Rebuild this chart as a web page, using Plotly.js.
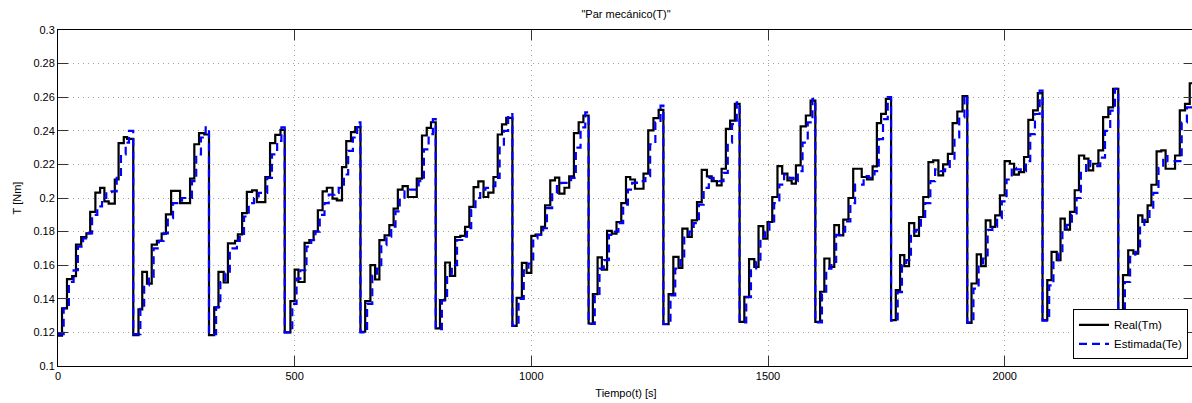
<!DOCTYPE html>
<html>
<head>
<meta charset="utf-8">
<script src="https://cdn.plot.ly/plotly-3.0.1.min.js"></script>
<style>
html,body{margin:0;padding:0;background:#fff;overflow:hidden;}
#chart{width:1194px;height:403px;}
</style>
</head>
<body>
<div id="chart"></div>
<script>
// Real torque (Tm): step times [s] and values [Nm]
const tReal = [
0,8.5,19,30,38,49,60,68,79,89,98,107,120,128,139,146,
159,170,178,188,198,209,219,228,239,258,279,288,298,309,
319,330,339,350,359,374,380,389,399,410,420,438,448,459,470,
479,491,500,508,521,531,540,549,559,568,580,589,600,609,619,628,
639,649,660,670,679,690,700,709,718,728,739,758,769,779,788,
798,807,818,828,839,850,860,869,878,888,899,909,920,929,938,947,
960,969,980,990,1000,1009,1021,1029,1040,1050,1059,1070,1080,1090,1100,1110,
1121,1130,1140,1149,1160,1170,1180,1190,1200,1209,1219,1237,1247,1258,1269,
1279,1290,1300,1311,1319,1330,1339,1350,1360,1371,1381,1392,1402,1411,1420,1430,
1440,1450,1460,1471,1480,1490,1499,1509,1520,1530,1541,1550,1559,1569,1580,1590,
1600,1610,1619,1630,1640,1650,1659,1670,1680,1698,1709,1721,1730,1739,1749,
1760,1770,1779,1788,1798,1809,1819,1828,1839,1849,1860,1870,1880,1890,1900,1911,
1921,1930,1941,1950,1960,1970,1980,1990,2000,2011,2020,2030,2041,2050,2060,2070,
2080,2090,2099,2110,2118,2127,2138,2148,2157,2168,2177,2187,2198,2208,2219,2229,
2240,2250,2261,2272,2282,2291,2302,2310,2321,2331,2340,2360,2370,2381,2391,2400
];
const real = [
0.118,0.1343,0.1517,0.1535,0.1723,0.1768,0.179,0.1917,0.2032,0.206,0.198,0.1966,0.211,0.2327,0.2362,0.2352,
0.1184,0.1337,0.156,0.149,0.1723,0.1745,0.1788,0.1903,0.2042,0.197,0.2115,0.232,0.2386,0.2378,
0.1184,0.1349,0.156,0.1497,0.173,0.1745,0.1784,0.191,0.2036,0.2045,0.1976,0.2125,0.2327,0.2376,0.2406,
0.12,0.1386,0.1574,0.15,0.1733,0.1749,0.1802,0.1927,0.204,0.2061,0.1996,0.1986,0.2184,0.2339,0.2392,0.2422,
0.1204,0.1386,0.16,0.1515,0.1749,0.1778,0.1838,0.1937,0.205,0.2071,0.2006,0.2115,0.2372,0.2418,0.2451,
0.1224,0.1392,0.1616,0.1537,0.1768,0.1774,0.1828,0.1947,0.2065,0.2099,0.2006,0.2032,0.2125,0.2378,0.2438,0.2477,
0.1238,0.1406,0.1614,0.1554,0.1774,0.1782,0.1828,0.1956,0.2105,0.2121,0.2026,0.2061,0.2129,0.2386,0.2451,0.2491,
0.1253,0.1428,0.1646,0.1574,0.1804,0.1788,0.1857,0.197,0.2125,0.211,0.2055,0.2145,0.2402,0.2475,0.2525,
0.1249,0.1428,0.165,0.1584,0.1818,0.1768,0.1867,0.1976,0.2168,0.2129,0.2101,0.2075,0.2174,0.2412,0.2461,0.256,
0.1263,0.1412,0.1636,0.159,0.1832,0.1758,0.1857,0.2006,0.219,0.2145,0.2105,0.2085,0.2194,0.2426,0.2491,0.258,
0.1263,0.1442,0.164,0.159,0.1838,0.1778,0.1871,0.2,0.2174,0.2125,0.211,0.2188,0.2446,0.2501,0.259,
0.1273,0.1452,0.166,0.1594,0.1851,0.1774,0.1887,0.2006,0.2214,0.2224,0.2135,0.22,0.2263,0.2446,0.2515,0.2606,
0.1257,0.1491,0.1665,0.1594,0.1867,0.1828,0.1897,0.2016,0.222,0.2204,0.2139,0.2154,0.2244,0.2465,0.2521,0.2624,
0.1273,0.1511,0.1679,0.163,0.1877,0.1812,0.1917,0.2046,0.2253,0.2234,0.2164,0.2204,0.2283,0.2481,0.254,0.265,
0.1299,0.1541,0.1689,0.1669,0.1897,0.1857,0.1956,0.2079,0.2277,0.2283,0.2174,0.2253,0.2521,0.256,0.2683,0.2683
];
// Estimated torque (Te)
const tEst = [
0,12,23,33,42,53,63,72,83,93,102,113,124,133,143,150,
159,174,182,192,202,213,223,232,243,262,283,292,302,312,
319,334,343,354,363,378,384,393,403,414,424,442,452,463,472,
479,495,504,512,525,535,544,553,563,572,584,593,604,613,623,632,
639,653,664,674,683,694,704,713,722,732,743,762,773,783,792,
798,811,822,832,843,854,864,873,882,892,903,913,924,933,942,951,
960,973,984,994,1004,1013,1025,1033,1044,1054,1063,1074,1084,1094,1104,1114,
1121,1134,1144,1153,1164,1174,1184,1194,1204,1213,1223,1241,1251,1262,1273,
1279,1294,1304,1315,1323,1334,1343,1354,1364,1375,1385,1396,1406,1415,1424,1434,
1440,1454,1464,1475,1484,1494,1503,1513,1524,1534,1545,1554,1563,1573,1584,1594,
1600,1614,1623,1634,1644,1654,1663,1674,1684,1702,1713,1725,1734,1743,1753,
1760,1774,1783,1792,1802,1813,1823,1832,1843,1853,1864,1874,1884,1894,1904,1915,
1921,1934,1945,1954,1964,1974,1984,1994,2004,2015,2024,2034,2045,2054,2064,2074,
2080,2094,2103,2114,2122,2131,2142,2152,2161,2172,2181,2191,2202,2212,2223,2233,
2240,2254,2265,2276,2286,2295,2306,2314,2325,2335,2344,2364,2374,2385,2400
];
const est = [
0.119,0.1345,0.15,0.157,0.171,0.176,0.179,0.19,0.195,0.2,0.2035,0.204,0.212,0.226,0.233,0.240,
0.119,0.134,0.148,0.153,0.17,0.1745,0.179,0.188,0.197,0.2,0.21,0.226,0.236,0.242,
0.119,0.135,0.15,0.155,0.17,0.1745,0.178,0.189,0.197,0.2,0.203,0.212,0.226,0.234,0.242,
0.12,0.137,0.152,0.157,0.171,0.175,0.18,0.19,0.197,0.202,0.203,0.206,0.214,0.228,0.236,0.245,
0.12,0.137,0.154,0.158,0.172,0.177,0.183,0.192,0.2,0.204,0.205,0.21,0.229,0.238,0.247,
0.122,0.139,0.155,0.16,0.175,0.177,0.182,0.193,0.2,0.205,0.206,0.207,0.212,0.23,0.24,0.25,
0.124,0.14,0.157,0.161,0.176,0.178,0.182,0.194,0.203,0.208,0.209,0.209,0.212,0.23,0.242,0.251,
0.125,0.142,0.158,0.163,0.178,0.18,0.185,0.196,0.205,0.209,0.21,0.213,0.232,0.245,0.255,
0.125,0.142,0.158,0.163,0.178,0.18,0.185,0.196,0.206,0.212,0.211,0.21,0.215,0.233,0.244,0.257,
0.126,0.141,0.157,0.162,0.177,0.18,0.185,0.197,0.208,0.214,0.212,0.21,0.216,0.233,0.245,0.259,
0.126,0.143,0.158,0.162,0.178,0.18,0.186,0.197,0.208,0.213,0.212,0.216,0.235,0.247,0.26,
0.127,0.144,0.16,0.163,0.18,0.181,0.187,0.197,0.21,0.217,0.216,0.217,0.222,0.236,0.248,0.261,
0.126,0.146,0.161,0.164,0.181,0.183,0.188,0.198,0.211,0.218,0.217,0.216,0.222,0.238,0.25,0.264,
0.127,0.148,0.163,0.167,0.182,0.184,0.19,0.2,0.215,0.222,0.219,0.219,0.224,0.24,0.252,0.265,
0.13,0.15,0.165,0.168,0.184,0.187,0.193,0.203,0.218,0.225,0.222,0.222,0.245,0.254,0.254
];
const yTickVals = [0.1,0.12,0.14,0.16,0.18,0.2,0.22,0.24,0.26,0.28,0.3];
const yTickText = ['0.1','0.12','0.14','0.16','0.18','0.2','0.22','0.24','0.26','0.28','0.3'];
const xTickVals = [0,500,1000,1500,2000];
const xTickText = ['0','500','1000','1500','2000'];

const font = {family:'Liberation Sans, Arial, Helvetica, sans-serif', size:11, color:'#000'};

const traces = [
  {x:tReal, y:real, mode:'lines', name:'Real(Tm)', line:{color:'#000000', width:2.2, shape:'hv'}},
  {x:tEst, y:est, mode:'lines', name:'Estimada(Te)', line:{color:'#0000ff', width:2.2, shape:'hv', dash:'8px,5px'}}
];

const axisCommon = {
  showline:true, linecolor:'#000', linewidth:1, mirror:'ticks',
  ticks:'inside', ticklen:10, tickcolor:'#333', tickwidth:1,
  showgrid:true, gridcolor:'#a0a0a0', griddash:'1px,4px', gridwidth:1,
  zeroline:false, tickfont:font
};

const layout = {
  width:1194, height:403,
  margin:{l:58, r:0, t:30, b:37},
  paper_bgcolor:'#fff', plot_bgcolor:'#fff',
  font:font,
  title:{text:'"Par mecánico(T)"', font:{family:font.family, size:11, color:'#000'}, x:0.5, xanchor:'center', xref:'paper',
    yref:'container', y:0.965, yanchor:'middle'},
  xaxis:Object.assign({}, axisCommon, {range:[0,2400], tickvals:xTickVals, ticktext:xTickText,
    title:{text:'Tiempo(t) [s]', font:font, standoff:8}}),
  yaxis:Object.assign({}, axisCommon, {range:[0.1,0.3], tickvals:yTickVals, ticktext:yTickText,
    title:{text:'T [Nm]', font:font, standoff:9}}),
  showlegend:true,
  legend:{x:0.9947, xanchor:'right', y:0.02, yanchor:'bottom', bgcolor:'#fff', bordercolor:'#000', borderwidth:1,
    font:{family:font.family, size:11.5, color:'#000'}, tracegroupgap:0, itemwidth:30}
};

Plotly.newPlot('chart', traces, layout, {displayModeBar:false, staticPlot:true});
</script>
</body>
</html>
